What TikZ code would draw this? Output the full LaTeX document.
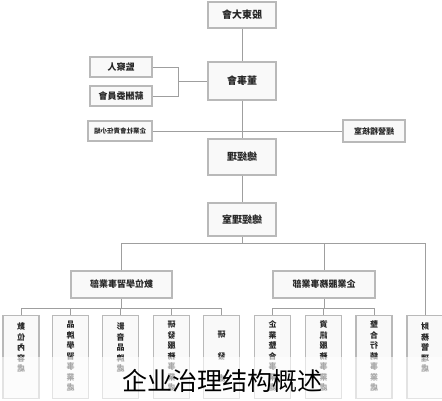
\documentclass[tikz,border=0pt]{standalone}
\usepackage{fontspec}
\usepackage{graphicx}
\newfontfamily\tcfont{Noto Sans CJK TC}
\newfontfamily\scfont{Noto Sans CJK SC}
\newcommand{\mir}[1]{\reflectbox{#1}}
\newcommand{\vst}[1]{\reflectbox{\begin{tabular}{@{}c@{}}#1\end{tabular}}}
\tikzset{
  box/.style={draw=gray!55, line width=1.4pt, fill=gray!5, inner sep=0pt, text=black!85,
              font=\tcfont\bfseries\fontsize{9}{11}\selectfont},
  vbox/.style={box, minimum width=36pt, minimum height=83pt, anchor=north},
  vtxt/.style={anchor=north, inner sep=0pt, text=black!85,
               font=\tcfont\bfseries\fontsize{8}{10.5}\selectfont},
  conn/.style={draw=gray!75, line width=0.9pt},
}
\begin{document}
\begin{tikzpicture}[x=1pt,y=-1pt]
\useasboundingbox (0,0) rectangle (442,400);
% top chain
\node[box, minimum width=68pt, minimum height=26pt, font=\tcfont\bfseries\fontsize{10}{12}\selectfont] (gd) at (242,15) {\mir{股東大會}};
\node[box, minimum width=62pt, minimum height=20pt] (sup) at (121,67) {\mir{監察人}};
\node[box, minimum width=62pt, minimum height=20pt] (pay) at (121,96) {\mir{薪酬委員會}};
\node[box, minimum width=68pt, minimum height=38pt, font=\tcfont\bfseries\fontsize{10}{12}\selectfont] (bd) at (242,81) {\mir{董事會}};
\node[box, minimum width=64pt, minimum height=20pt, font=\tcfont\bfseries\fontsize{6.5}{8}\selectfont] (csr) at (120,131) {\mir{企業社會責任小組}};
\node[box, minimum width=62pt, minimum height=22pt, font=\tcfont\bfseries\fontsize{8}{10}\selectfont] (aud) at (374,131) {\mir{經營稽核室}};
\node[box, minimum width=68pt, minimum height=36pt, font=\tcfont\bfseries\fontsize{10}{12}\selectfont] (gm) at (242,157) {\mir{總經理}};
\node[box, minimum width=68pt, minimum height=33pt, font=\tcfont\bfseries\fontsize{10}{12}\selectfont] (gmo) at (242,219.5) {\mir{總經理室}};
\node[box, minimum width=101pt, minimum height=27pt] (divL) at (121.5,284.5) {\mir{數位學習事業部}};
\node[box, minimum width=102pt, minimum height=27pt] (divR) at (324,284.5) {\mir{企業服務事業部}};
% bottom units
\node[vbox] (b1) at (21,315) {};
\node[vbox] (b2) at (70.5,315) {};
\node[vbox] (b3) at (120.5,315) {};
\node[vbox] (b4) at (171.5,315) {};
\node[vbox] (b5) at (221.5,315) {};
\node[vbox] (b6) at (272.5,315) {};
\node[vbox] (b7) at (323.5,315) {};
\node[vbox] (b8) at (374,315) {};
\node[vbox] (b9) at (425,315) {};
\node[vtxt] (t1) at ([yshift=-7pt]b1.north) {\vst{數\\位\\內\\容\\處}};
\node[vtxt] (t2) at ([yshift=-5pt]b2.north) {\vst{品\\牌\\學\\習\\事\\業\\處}};
\node[vtxt] (t3) at ([yshift=-7pt]b3.north) {\vst{影\\音\\品\\牌\\處}};
\node[vtxt] (t4) at ([yshift=-5pt]b4.north) {\vst{研\\發\\服\\務\\事\\業\\處}};
\node[vtxt, font=\tcfont\bfseries\fontsize{8}{22}\selectfont] (t5) at ([yshift=-7pt]b5.north) {\vst{研\\發\\處}};
\node[vtxt] (t6) at ([yshift=-5pt]b6.north) {\vst{企\\業\\整\\合\\事\\業\\處}};
\node[vtxt] (t7) at ([yshift=-5pt]b7.north) {\vst{資\\訊\\服\\務\\事\\業\\處}};
\node[vtxt] (t8) at ([yshift=-5pt]b8.north) {\vst{整\\合\\行\\銷\\事\\業\\處}};
\node[vtxt] (t9) at ([yshift=-7pt]b9.north) {\vst{財\\務\\管\\理\\處}};
% connectors
\coordinate (brT) at (178,67);
\coordinate (brB) at (178,96);
\coordinate (brM) at (178,81);
\draw[conn] (sup.east) -- (brT) -- (brB) -- (pay.east);
\draw[conn] (brM) -- (bd.west);
\draw[conn] (gd.south) -- (bd.north);
\draw[conn] (bd.south) -- (gm.north);
\draw[conn] (csr.east) -- (aud.west);
\draw[conn] (gm.south) -- (gmo.north);
\coordinate (bus) at (242,243);
\coordinate (busL) at (121.5,243);
\coordinate (busR) at (425,243);
\draw[conn] (gmo.south) -- (bus);
\draw[conn] (busL) -- (busR);
\draw[conn] (busL) -- (divL.north);
\draw[conn] (divR.north |- bus) -- (divR.north);
\draw[conn] (busR) -- (b9.north);
\coordinate (lb) at (121.5,308);
\coordinate (rb) at (324,308);
\draw[conn] (divL.south) -- (lb);
\draw[conn] (divR.south) -- (rb);
\draw[conn] (b1.north) -- (b1.north |- lb) -- (b5.north |- lb) -- (b5.north);
\foreach \b in {b2,b3,b4} \draw[conn] (\b.north |- lb) -- (\b.north);
\draw[conn] (b6.north) -- (b6.north |- rb) -- (b8.north |- rb) -- (b8.north);
\draw[conn] (b7.north |- rb) -- (b7.north);
% fading band and caption
\fill[white, fill opacity=0.6] (0,357) rectangle (442,400);
\node[font=\scfont\fontsize{25}{25}\selectfont, text=black, inner sep=0pt] (cap) at (222,381) {企业治理结构概述};
\end{tikzpicture}
\end{document}
